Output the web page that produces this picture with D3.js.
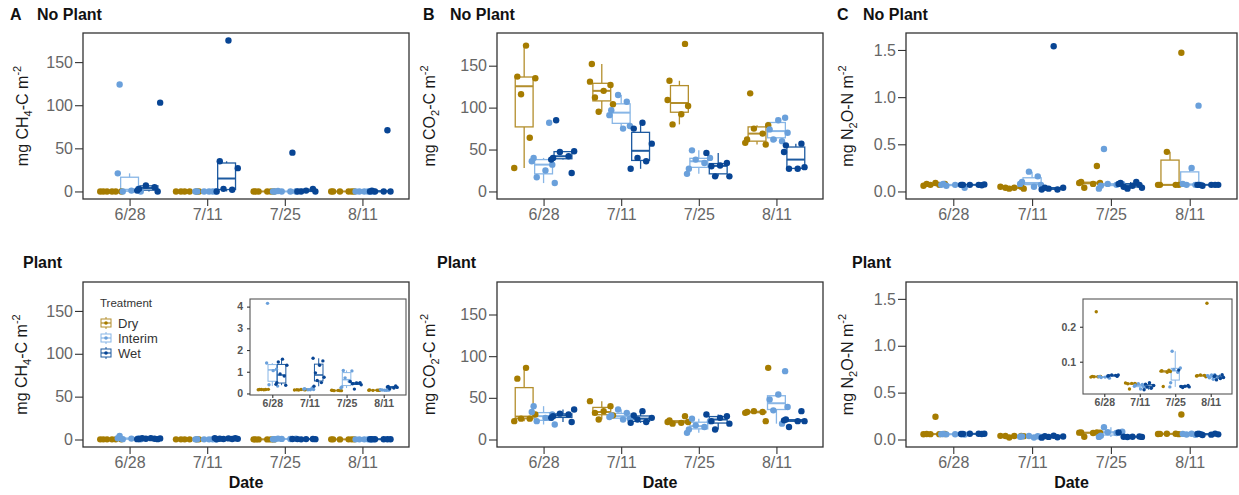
<!DOCTYPE html>
<html>
<head>
<meta charset="utf-8">
<script src="https://cdn.jsdelivr.net/npm/d3@7"></script>
<style>
  body { margin: 0; background: #fff; }
  svg { display: block; font-family: "Liberation Sans", Arial, Helvetica, sans-serif; }
</style>
</head>
<body>
<svg id="chart" width="1239" height="495"></svg>
<script>
// ---------- data ----------

const dates = ["6/28", "7/11", "7/25", "8/11"];
const treatments = ["Dry", "Interim", "Wet"];
const pointColors = ["#a67c00", "#6aa0db", "#084594"];
const boxColors = ["#b38e2c", "#88b6e6", "#1d5aa0"];

// one row per date: [Dry, Interim, Wet] sample values
const ch4NoPlant = [
  [[0, 0, 0, 0, 0, 0], [0, 0, 1, 3, 21, 124], [0, 1, 3, 5, 7, 103]],
  [[0, 0, 0, 0, 0, 0], [0, 0, 0, 0, 0, 0], [0, 2, 3, 27, 35, 175]],
  [[0, 0, 0, 0, 0, 0], [0, 0, 0, 0, 0, 0.5], [0, 0, 0, 1, 3, 45]],
  [[0, 0, 0, 0, 0, 0], [0, 0, 0, 0, 0, 0], [0, 0, 0, 0, 1, 71]],
];

const ch4Plant = [
  [[0.17, 0.18, 0.18, 0.19, 0.18, 0.17], [0.34, 0.4, 1.05, 1.12, 1.4, 4.15], [0.38, 0.42, 0.5, 0.8, 0.9, 1.3, 1.45, 1.58]],
  [[0.16, 0.17, 0.17, 0.18, 0.17, 0.16], [0.17, 0.18, 0.2, 0.22, 0.25, 0.17], [0.33, 0.5, 0.6, 0.75, 0.95, 1.3, 1.5, 1.62]],
  [[0.13, 0.14, 0.13, 0.15, 0.14, 0.13], [0.25, 0.3, 0.55, 0.72, 1.04, 1.06], [0.2, 0.4, 0.45, 0.48, 0.5, 0.55]],
  [[0.15, 0.15, 0.16, 0.15, 0.14, 0.15], [0.15, 0.16, 0.16, 0.17, 0.15, 0.16], [0.22, 0.25, 0.28, 0.3, 0.32, 0.35]],
];

const co2NoPlant = [
  [[28, 64, 116, 135, 137, 174], [10, 17, 25, 32, 36, 40, 82], [22, 38, 40, 42, 47, 48, 85]],
  [[95, 104, 112, 120, 127, 131, 152], [75, 78, 91, 97, 107, 115], [27, 36, 40, 57, 75, 82]],
  [[80, 92, 102, 109, 132, 176], [21, 27, 34, 38, 40, 49], [18, 18, 30, 31, 34, 46]],
  [[56, 58, 62, 69, 75, 79, 117], [60, 62, 70, 74, 85, 88], [27, 27, 29, 47, 55, 57]],
];

const co2Plant = [
  [[22, 25, 25, 30, 73, 86], [18, 22, 26, 30, 33, 40], [21, 26, 28, 30, 31, 36]],
  [[24, 29, 32, 34, 40, 46], [24, 25, 27, 29, 32, 36], [20, 21, 24, 26, 29, 34]],
  [[19, 20, 21, 21, 23, 28], [8, 12, 15, 17, 22, 25], [12, 19, 22, 26, 28, 30]],
  [[22, 32, 33, 33, 34, 86], [19, 35, 39, 48, 54, 82], [15, 22, 22, 23, 24, 34]],
];

const n2oNoPlant = [
  [[0.06, 0.07, 0.07, 0.08, 0.08, 0.09], [0.04, 0.06, 0.07, 0.07, 0.07, 0.08], [0.065, 0.07, 0.07, 0.07, 0.07, 0.075]],
  [[0.03, 0.03, 0.04, 0.04, 0.05, 0.05], [0.05, 0.07, 0.08, 0.1, 0.16, 0.21], [0.02, 0.02, 0.03, 0.04, 0.04, 1.54]],
  [[0.04, 0.08, 0.09, 0.09, 0.1, 0.27], [0.03, 0.06, 0.07, 0.08, 0.08, 0.45], [0.03, 0.04, 0.05, 0.06, 0.07, 0.08, 0.09, 0.1]],
  [[0.07, 0.07, 0.07, 0.07, 0.42, 1.47], [0.07, 0.07, 0.07, 0.08, 0.25, 0.91], [0.06, 0.07, 0.07, 0.07, 0.07, 0.07]],
];

const n2oPlant = [
  [[0.056, 0.057, 0.057, 0.058, 0.058, 0.243], [0.053, 0.055, 0.056, 0.056, 0.057, 0.058], [0.058, 0.059, 0.06, 0.061, 0.062, 0.062]],
  [[0.022, 0.036, 0.037, 0.038, 0.038, 0.039], [0.022, 0.028, 0.03, 0.033, 0.035, 0.037], [0.02, 0.024, 0.028, 0.032, 0.036, 0.04]],
  [[0.029, 0.07, 0.072, 0.073, 0.074, 0.076], [0.028, 0.04, 0.07, 0.078, 0.082, 0.13], [0.026, 0.028, 0.029, 0.03, 0.032, 0.076]],
  [[0.057, 0.059, 0.06, 0.061, 0.062, 0.267], [0.05, 0.054, 0.057, 0.06, 0.062, 0.063], [0.048, 0.052, 0.055, 0.058, 0.06, 0.063]],
];

const ch4Ticks = [0, 50, 100, 150];
const co2Ticks = [0, 50, 100, 150];
const n2oTicks = [0, 0.5, 1, 1.5];
const ch4InsetTicks = [0, 1, 2, 3, 4];
const n2oInsetTicks = [0.1, 0.2];

// fixed jitter pattern (fraction of the jitter half-width)
const jitterPattern = [-0.8, 0.45, -0.25, 0.9, -0.55, 0.15, 0.7, -0.95];

// ---------- helpers ----------

const svg = d3.select("#chart");
svg.append("rect").attr("width", 1239).attr("height", 495).attr("fill", "#fff");

function boxStats(vals) {
  const s = vals.slice().sort(d3.ascending);
  const q1 = d3.quantile(s, 0.25);
  const med = d3.quantile(s, 0.5);
  const q3 = d3.quantile(s, 0.75);
  const iqr = q3 - q1;
  const lo = d3.min(s.filter((v) => v >= q1 - 1.5 * iqr));
  const hi = d3.max(s.filter((v) => v <= q3 + 1.5 * iqr));
  return { q1, med, q3, lo, hi };
}

function flatten(data) {
  const out = [];
  data.forEach((byTrt, di) =>
    byTrt.forEach((vals, ti) => out.push({ date: dates[di], di, ti, vals, stats: boxStats(vals) }))
  );
  return out;
}

// boxes + jittered points for one plotting area
function drawGroups(g, groups, x, y, opt) {
  const step = x.step();
  const cx = (d) => x(d.date) + (d.ti - 1) * 0.25 * step;
  const hw = 0.115 * step;

  const box = g.selectAll("g.box").data(groups).join("g").attr("class", "box")
    .attr("stroke", (d) => boxColors[d.ti]).attr("fill", "none");

  box.append("line")
    .attr("x1", cx).attr("x2", cx)
    .attr("y1", (d) => y(d.stats.q3)).attr("y2", (d) => y(d.stats.hi))
    .attr("stroke-width", opt.lw);
  box.append("line")
    .attr("x1", cx).attr("x2", cx)
    .attr("y1", (d) => y(d.stats.q1)).attr("y2", (d) => y(d.stats.lo))
    .attr("stroke-width", opt.lw);
  box.append("rect")
    .attr("x", (d) => cx(d) - hw).attr("width", 2 * hw)
    .attr("y", (d) => y(d.stats.q3))
    .attr("height", (d) => Math.max(0, y(d.stats.q1) - y(d.stats.q3)))
    .attr("stroke-width", opt.lw);
  box.append("line")
    .attr("x1", (d) => cx(d) - hw).attr("x2", (d) => cx(d) + hw)
    .attr("y1", (d) => y(d.stats.med)).attr("y2", (d) => y(d.stats.med))
    .attr("stroke-width", opt.mw);

  const pts = [];
  groups.forEach((d) =>
    d.vals.forEach((v, k) =>
      pts.push({ v, ti: d.ti, px: cx(d) + jitterPattern[(k + d.di * 2 + d.ti * 3) % 8] * 0.16 * step })
    )
  );
  g.selectAll("circle.pt").data(pts).join("circle").attr("class", "pt")
    .attr("cx", (d) => d.px).attr("cy", (d) => y(d.v)).attr("r", opt.r)
    .attr("fill", (d) => pointColors[d.ti]);
}

function styleAxis(ax, size, color, weight) {
  ax.select(".domain").remove();
  ax.selectAll(".tick line").attr("stroke", "#333").attr("stroke-width", 1.1);
  ax.selectAll(".tick text").attr("fill", color).style("font-size", size + "px")
    .style("font-weight", weight).style("font-family", "'Liberation Sans', Arial, sans-serif");
}

function yLabel(g, px, py, head, sub, tail) {
  const t = g.append("text").attr("transform", `translate(${px},${py}) rotate(-90)`)
    .attr("text-anchor", "middle").attr("fill", "#1a1a1a").style("font-size", "16px");
  t.append("tspan").text(head);
  t.append("tspan").attr("dy", 4).style("font-size", "11px").text(sub);
  t.append("tspan").attr("dy", -4).text(tail);
  t.append("tspan").attr("dy", -7).style("font-size", "11px").text("-2");
}

// ---------- panels ----------

const panels = [
  { data: ch4NoPlant, x0: 83, x1: 409, y0: 33, y1: 199, lim: [0, 175], ticks: ch4Ticks, fmt: d3.format("d"),
    lab: ["mg CH", "4", "-C m"], labX: 28, letter: "A", letterX: 10, title: "No Plant", titleX: 37, titleY: 20 },
  { data: co2NoPlant, x0: 497, x1: 823, y0: 33, y1: 199, lim: [0, 180], ticks: co2Ticks, fmt: d3.format("d"),
    lab: ["mg CO", "2", "-C m"], labX: 435, letter: "B", letterX: 423, title: "No Plant", titleX: 450, titleY: 20 },
  { data: n2oNoPlant, x0: 906, x1: 1237, y0: 33, y1: 199, lim: [0, 1.6], ticks: n2oTicks, fmt: d3.format(".1f"),
    lab: ["mg N", "2", "O-N m"], labX: 853, letter: "C", letterX: 837, title: "No Plant", titleX: 863, titleY: 20 },
  { data: ch4Plant, x0: 83, x1: 409, y0: 282, y1: 447, lim: [0, 175], ticks: ch4Ticks, fmt: d3.format("d"),
    lab: ["mg CH", "4", "-C m"], labX: 27, title: "Plant", titleX: 23, titleY: 268, date: true,
    inset: { x0: 250, x1: 406, y0: 299, y1: 395, ticks: ch4InsetTicks, fmt: d3.format("d") }, legend: true },
  { data: co2Plant, x0: 497, x1: 823, y0: 282, y1: 447, lim: [0, 180], ticks: co2Ticks, fmt: d3.format("d"),
    lab: ["mg CO", "2", "-C m"], labX: 435, title: "Plant", titleX: 437, titleY: 268, date: true },
  { data: n2oPlant, x0: 906, x1: 1237, y0: 282, y1: 447, lim: [0, 1.6], ticks: n2oTicks, fmt: d3.format(".1f"),
    lab: ["mg N", "2", "O-N m"], labX: 853, title: "Plant", titleX: 852, titleY: 268, date: true,
    inset: { x0: 1083, x1: 1232, y0: 299, y1: 394, ticks: n2oInsetTicks, fmt: d3.format(".1f") } },
];

panels.forEach((p) => {
  const g = svg.append("g");
  const x = d3.scalePoint().domain(dates).range([p.x0, p.x1]).padding(0.6);
  const span = p.lim[1] - p.lim[0];
  const y = d3.scaleLinear().domain([p.lim[0] - 0.05 * span, p.lim[1] + 0.05 * span]).range([p.y1, p.y0]);
  const groups = flatten(p.data);

  g.append("rect").attr("x", p.x0).attr("y", p.y0).attr("width", p.x1 - p.x0).attr("height", p.y1 - p.y0)
    .attr("fill", "#fff");

  drawGroups(g.append("g"), groups, x, y, { r: 3.2, lw: 1.3, mw: 2 });

  g.append("rect").attr("x", p.x0).attr("y", p.y0).attr("width", p.x1 - p.x0).attr("height", p.y1 - p.y0)
    .attr("fill", "none").attr("stroke", "#333").attr("stroke-width", 1.3);

  const ay = g.append("g").attr("transform", `translate(${p.x0},0)`)
    .call(d3.axisLeft(y).tickValues(p.ticks).tickFormat(p.fmt).tickSize(8).tickPadding(2));
  styleAxis(ay, 16, "#666", "normal");
  const ax = g.append("g").attr("transform", `translate(0,${p.y1})`)
    .call(d3.axisBottom(x).tickSize(7).tickPadding(3));
  styleAxis(ax, 16, "#666", "normal");

  yLabel(g, p.labX, (p.y0 + p.y1) / 2, p.lab[0], p.lab[1], p.lab[2]);

  if (p.letter) {
    g.append("text").attr("x", p.letterX).attr("y", p.titleY).attr("fill", "#111")
      .style("font-size", "16px").style("font-weight", "bold").text(p.letter);
  }
  g.append("text").attr("x", p.titleX).attr("y", p.titleY).attr("fill", "#111")
    .style("font-size", "16px").style("font-weight", "bold").text(p.title);

  if (p.date) {
    g.append("text").attr("x", (p.x0 + p.x1) / 2).attr("y", 488).attr("text-anchor", "middle")
      .attr("fill", "#111").style("font-size", "16px").style("font-weight", "bold").text("Date");
  }

  if (p.inset) {
    const q = p.inset;
    const allVals = groups.flatMap((d) => d.vals);
    const [mn, mx] = d3.extent(allVals);
    const pad = 0.05 * (mx - mn);
    const ix = d3.scalePoint().domain(dates).range([q.x0, q.x1]).padding(0.6);
    const iy = d3.scaleLinear().domain([mn - pad, mx + pad]).range([q.y1, q.y0]);
    const ig = g.append("g");
    ig.append("rect").attr("x", q.x0).attr("y", q.y0).attr("width", q.x1 - q.x0).attr("height", q.y1 - q.y0)
      .attr("fill", "#fff");
    drawGroups(ig.append("g"), groups, ix, iy, { r: 1.7, lw: 1, mw: 1.5 });
    ig.append("rect").attr("x", q.x0).attr("y", q.y0).attr("width", q.x1 - q.x0).attr("height", q.y1 - q.y0)
      .attr("fill", "none").attr("stroke", "#555").attr("stroke-width", 1.1);
    const iay = ig.append("g").attr("transform", `translate(${q.x0},0)`)
      .call(d3.axisLeft(iy).tickValues(q.ticks).tickFormat(q.fmt).tickSize(3).tickPadding(4));
    styleAxis(iay, 10.5, "#555", "bold");
    const iax = ig.append("g").attr("transform", `translate(0,${q.y1})`)
      .call(d3.axisBottom(ix).tickSize(3).tickPadding(2));
    styleAxis(iax, 10.5, "#555", "bold");
  }

  if (p.legend) {
    const lg = g.append("g").attr("transform", "translate(100,0)");
    lg.append("text").attr("x", 0).attr("y", 307).attr("fill", "#333").style("font-size", "11.5px").text("Treatment");
    treatments.forEach((t, i) => {
      const cy = 323 + i * 15;
      const k = lg.append("g").attr("stroke", boxColors[i]).attr("fill", "none");
      k.append("line").attr("x1", 6).attr("x2", 6).attr("y1", cy - 6).attr("y2", cy + 6).attr("stroke-width", 1);
      k.append("rect").attr("x", 1).attr("y", cy - 4).attr("width", 10).attr("height", 8)
        .attr("fill", "#fff").attr("stroke-width", 1);
      k.append("line").attr("x1", 1).attr("x2", 11).attr("y1", cy).attr("y2", cy).attr("stroke-width", 1.2);
      lg.append("circle").attr("cx", 6).attr("cy", cy).attr("r", 1.8).attr("fill", pointColors[i]);
      lg.append("text").attr("x", 18).attr("y", cy + 4.5).attr("fill", "#333").style("font-size", "13px").text(t);
    });
  }
});
</script>
</body>
</html>
